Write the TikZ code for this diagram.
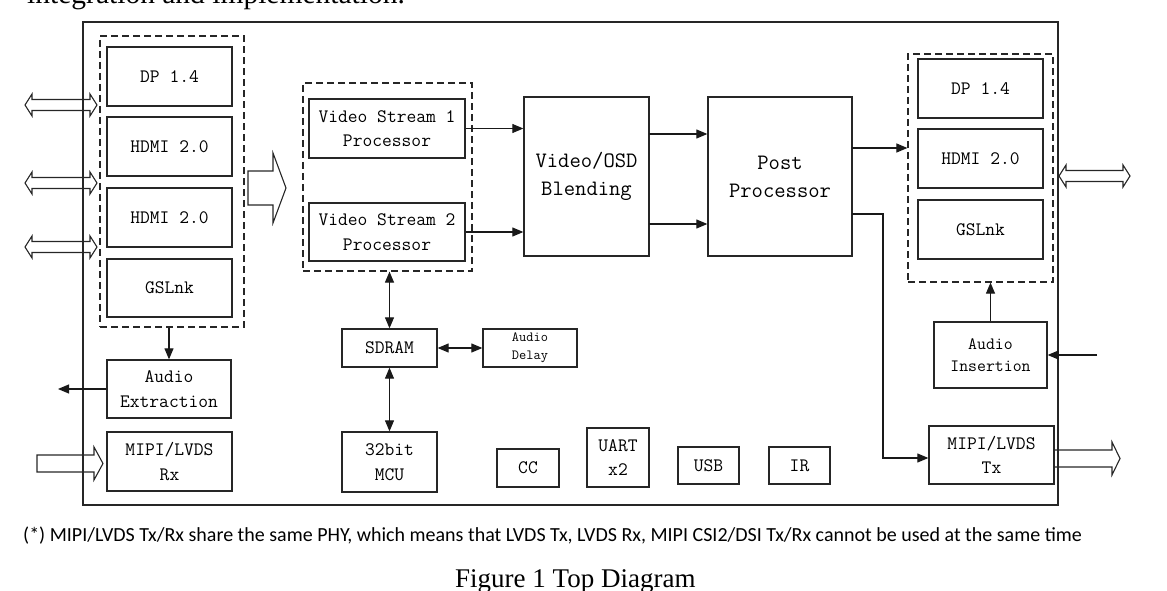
\documentclass[tikz,border=0pt]{standalone}
\usepackage{fontspec}
\newfontfamily\fnfont{Carlito}
\newfontfamily\serx{Liberation Serif}
\usetikzlibrary{arrows.meta}
\newcommand\mfnt{\fontsize{19}{24.5}\selectfont\ttfamily}
\newcommand\bfnt{\fontsize{22}{28}\selectfont\ttfamily}
\newcommand\sfnt{\fontsize{14}{18}\selectfont\ttfamily}
\newcommand\ifnt{\fontsize{17.3}{21.7}\selectfont\ttfamily}
\tikzset{
  box/.style={draw=black!85, line width=1.3pt, inner sep=0pt, align=center, font=\mfnt},
  grp/.style={draw=black!85, line width=1.2pt, dash pattern=on 7pt off 4pt, inner sep=0pt},
  arr/.style={draw=black!90, line width=1.1pt, -{Triangle[length=11pt,width=9pt]}},
  darr/.style={draw=black!90, line width=1.1pt, {Triangle[length=11pt,width=9pt]}-{Triangle[length=11pt,width=9pt]}},
  hollow/.style={draw=black!85, line width=1.1pt, line join=miter},
}
\newcommand\dblarrow[3]{%
  \draw[hollow] (#1,#3) -- (#1+7,#3-11) -- (#1+7,#3-5.5) -- (#2-7,#3-5.5) -- (#2-7,#3-11) -- (#2,#3)
    -- (#2-7,#3+11) -- (#2-7,#3+5.5) -- (#1+7,#3+5.5) -- (#1+7,#3+11) -- cycle;}
\begin{document}
\begin{tikzpicture}[x=1pt,y=-1pt]
\useasboundingbox (0,0) rectangle (1167,591);

% text outside the frame
\node[anchor=base west, inner sep=0pt, font=\serx\fontsize{29.5}{30}\selectfont] (toptxt) at (27,4) {integration and implementation.};
\node[anchor=base west, inner sep=0pt, font=\fnfont\fontsize{20}{21}\selectfont] (note) at (23,541) {(*) MIPI/LVDS Tx/Rx share the same PHY, which means that LVDS Tx, LVDS Rx, MIPI CSI2/DSI Tx/Rx cannot be used at the same time};
\node[anchor=base west, inner sep=0pt, font=\serx\fontsize{27}{28}\selectfont] (cap) at (455,587) {Figure 1 Top Diagram};

% outer frame
\node[draw=black!85, line width=1.4pt, minimum width=975pt, minimum height=483pt, inner sep=0pt] (outer) at (570.5,263.5) {};

% left input group
\node[grp, minimum width=144pt, minimum height=291pt] (lgrp) at (172,181.5) {};
\node[box, minimum width=125pt, minimum height=59pt] (dpA) at (169.5,76.5) {DP 1.4};
\node[box, minimum width=125pt, minimum height=59pt] (hdA) at (169.5,146.5) {HDMI 2.0};
\node[box, minimum width=125pt, minimum height=59pt] (hdB) at (169.5,217.5) {HDMI 2.0};
\node[box, minimum width=125pt, minimum height=58pt] (gsA) at (169.5,288) {GSLnk};
\node[box, minimum width=124pt, minimum height=58pt] (aext) at (169,389) {Audio\\Extraction};
\node[box, minimum width=125pt, minimum height=59pt] (mrx) at (169.5,461.5) {MIPI/LVDS\\Rx};

% video stream group
\node[grp, minimum width=169pt, minimum height=188pt] (vsg) at (387.5,177) {};
\node[box, minimum width=156pt, minimum height=59pt] (vs1) at (387,128.5) {Video Stream 1\\Processor};
\node[box, minimum width=156pt, minimum height=58pt] (vs2) at (387,232) {Video Stream 2\\Processor};

% blending and post
\node[box, font=\bfnt, minimum width=125pt, minimum height=159pt] (blend) at (586.5,176.5) {Video/OSD\\Blending};
\node[box, font=\bfnt, minimum width=144pt, minimum height=159pt] (post) at (780,176.5) {Post\\Processor};

% right output group
\node[grp, minimum width=145pt, minimum height=228pt] (rgrp) at (980.5,168) {};
\node[box, minimum width=125pt, minimum height=59pt] (dpB) at (980.5,88.5) {DP 1.4};
\node[box, minimum width=125pt, minimum height=59pt] (hdC) at (980.5,158.5) {HDMI 2.0};
\node[box, minimum width=125pt, minimum height=59pt] (gsB) at (980.5,229.5) {GSLnk};
\node[box, font=\ifnt, minimum width=113pt, minimum height=66pt] (ains) at (990.5,355) {Audio\\Insertion};
\node[box, minimum width=125pt, minimum height=58pt] (mtx) at (991.5,455) {MIPI/LVDS\\Tx};

% memory, MCU, peripherals
\node[box, minimum width=95pt, minimum height=38pt] (sdram) at (389.5,348) {SDRAM};
\node[box, font=\sfnt, minimum width=94pt, minimum height=38pt] (adel) at (530,348) {Audio\\Delay};
\node[box, minimum width=95pt, minimum height=60pt] (mcu) at (389.5,462) {32bit\\MCU};
\node[box, minimum width=62pt, minimum height=38pt] (cc) at (528,468) {CC};
\node[box, minimum width=62pt, minimum height=59pt] (uart) at (618,457.5) {UART\\x2};
\node[box, minimum width=61pt, minimum height=37pt] (usb) at (708.5,465.5) {USB};
\node[box, minimum width=61pt, minimum height=37pt] (ir) at (799.5,465.5) {IR};

% helper coordinates
\coordinate (aout) at (58,389);
\coordinate (ain) at (1097,355);
\coordinate (bj1) at (649,134);
\coordinate (bj2) at (649,224);
\coordinate (pj1) at (852,148);
\coordinate (pj2) at (852,214);
\coordinate (tj1) at (883,214);
\coordinate (tj2) at (883,458);

% connectors
\draw[arr] (aext.north |- lgrp.south) -- (aext.north);
\draw[arr] (aext.west) -- (aout);
\draw[arr] (vs1.east) -- (vs1.east -| blend.west);
\draw[arr] (vs2.east) -- (vs2.east -| blend.west);
\draw[arr] (bj1) -- (bj1 -| post.west);
\draw[arr] (bj2) -- (bj2 -| post.west);
\draw[arr] (pj1) -- (pj1 -| rgrp.west);
\draw[arr] (pj2) -- (tj1) -- (tj2) -- (tj2 -| mtx.west);
\draw[arr] (ains.north) -- (ains.north |- rgrp.south);
\draw[arr] (ain) -- (ain -| ains.east);
\draw[darr] (sdram.north |- vsg.south) -- (sdram.north);
\draw[darr] (sdram.east) -- (adel.west);
\draw[darr] (sdram.south) -- (mcu.north);

% hollow arrows
\dblarrow{25}{97}{105}
\dblarrow{25}{97}{183}
\dblarrow{25}{97}{247}
\dblarrow{1059}{1130}{176}
\draw[hollow] (248,171) -- (273,171) -- (273,153) -- (286,188) -- (273,223) -- (273,205) -- (248,205) -- cycle;
\draw[hollow] (37,455) -- (94,455) -- (94,447) -- (103,463.5) -- (94,480) -- (94,472) -- (37,472) -- cycle;
\draw[hollow] (mtx.east |- 0,450) -- (1112,450) -- (1112,442) -- (1120,458.5) -- (1112,475) -- (1112,467) -- (mtx.east |- 0,467);
\end{tikzpicture}
\end{document}
